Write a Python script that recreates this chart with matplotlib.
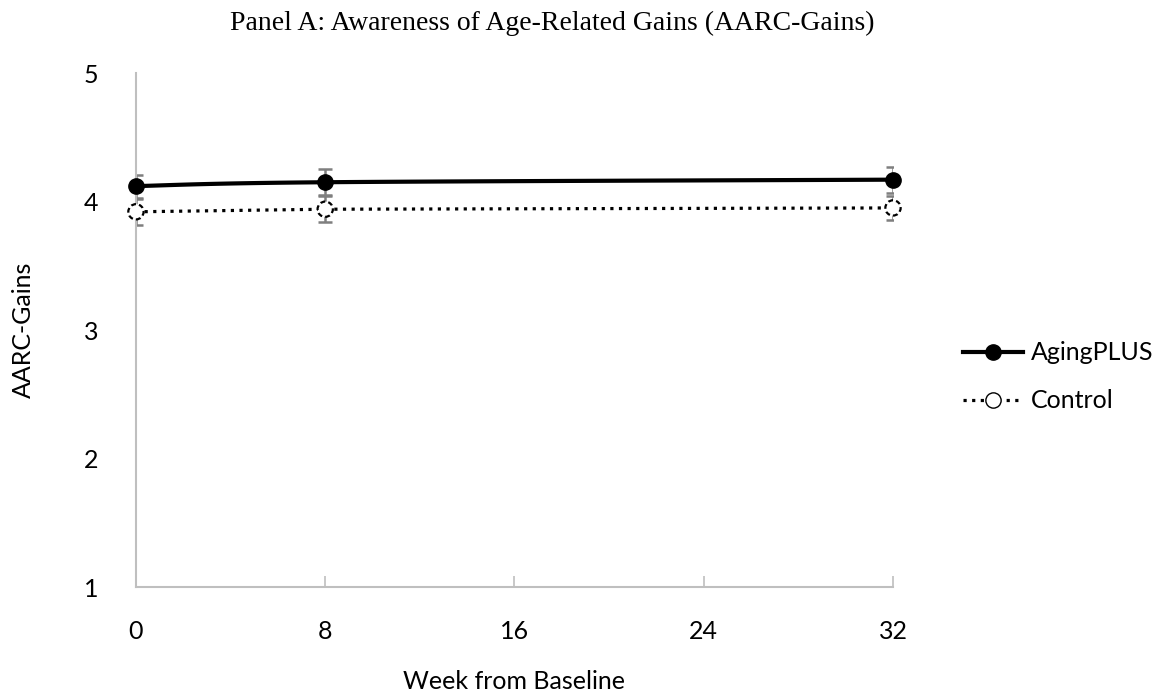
import numpy as np
import matplotlib
matplotlib.use("Agg")
import matplotlib.pyplot as plt
from matplotlib.lines import Line2D

weeks = [0, 8, 32]
aging_mean = [4.12, 4.15, 4.17]
aging_err = [0.09, 0.10, 0.10]
control_mean = [3.92, 3.94, 3.95]
control_err = [0.10, 0.10, 0.09]
x_ticks = [0, 8, 16, 24, 32]
y_ticks = [1, 2, 3, 4, 5]

title = "Panel A: Awareness of Age-Related Gains (AARC-Gains)"
xlabel = "Week from Baseline"
ylabel = "AARC-Gains"

sans = ["Lato", "DejaVu Sans"]
serif = ["Liberation Serif", "DejaVu Serif"]
FS = 18


def smooth(xs, ys, n=60):
    # Catmull-Rom style smoothing (rendering only, passes through data points)
    xs = np.asarray(xs, float)
    ys = np.asarray(ys, float)
    px = np.concatenate([[xs[0]], xs, [xs[-1]]])
    py = np.concatenate([[ys[0]], ys, [ys[-1]]])
    ox, oy = [], []
    for i in range(1, len(px) - 2):
        p0 = np.array([px[i - 1], py[i - 1]])
        p1 = np.array([px[i], py[i]])
        p2 = np.array([px[i + 1], py[i + 1]])
        p3 = np.array([px[i + 2], py[i + 2]])
        c1 = p1 + (p2 - p0) / 6.0
        c2 = p2 - (p3 - p1) / 6.0
        t = np.linspace(0, 1, n)[:, None]
        b = ((1 - t) ** 3) * p1 + 3 * ((1 - t) ** 2) * t * c1 + 3 * (1 - t) * t ** 2 * c2 + t ** 3 * p2
        ox.extend(b[:, 0])
        oy.extend(b[:, 1])
    return np.array(ox), np.array(oy)


fig = plt.figure(figsize=(11.75, 6.98), dpi=100)
ax = fig.add_axes([0.1157, 0.159, 0.6443, 0.7364])

grey = "#7f7f7f"
ax.errorbar(weeks, control_mean, yerr=control_err, fmt="none", ecolor=grey,
            elinewidth=1.8, capsize=5, capthick=1.8, zorder=2)
ax.errorbar(weeks, aging_mean, yerr=aging_err, fmt="none", ecolor=grey,
            elinewidth=1.8, capsize=5, capthick=1.8, zorder=2)

dots = (0, (1, 1.7))
ax.plot(weeks, control_mean, linestyle=dots, color="black", lw=2.3, zorder=3)
ax.scatter(weeks, control_mean, s=11 ** 2, facecolors="white", edgecolors="black",
           linewidths=1.6, linestyles=(0, (2.2, 1.4)), zorder=4, clip_on=False)
sx, sy = smooth(weeks, aging_mean)
ax.plot(sx, sy, color="black", lw=3, zorder=3)
ax.plot(weeks, aging_mean, linestyle="none", marker="o", markersize=11,
        color="black", zorder=4, clip_on=False)

ax.set_xlim(0, 32)
ax.set_ylim(1, 5)
ax.set_xticks(x_ticks)
ax.set_yticks(y_ticks)
ax.set_xticklabels([str(v) for v in x_ticks], fontfamily=sans, fontsize=FS)
ax.set_yticklabels([str(v) for v in y_ticks], fontfamily=sans, fontsize=FS)
ax.tick_params(axis="x", direction="in", length=8, color="#bfbfbf", width=1.2, pad=24)
ax.tick_params(axis="y", length=0, pad=27)
for s in ["top", "right"]:
    ax.spines[s].set_visible(False)
for s in ["left", "bottom"]:
    ax.spines[s].set_color("#bfbfbf")
    ax.spines[s].set_linewidth(1.5)
ax.set_xlabel(xlabel, fontfamily=sans, fontsize=FS, labelpad=19)
ax.set_ylabel(ylabel, fontfamily=sans, fontsize=FS, labelpad=35)
fig.text(0.47, 0.967, title, ha="center", va="center", fontfamily=serif, fontsize=20)

h1 = Line2D([], [], color="black", lw=3, marker="o", markersize=11)
h2 = Line2D([], [], color="black", lw=2.3, linestyle=dots, marker="o",
            markersize=11, markerfacecolor="white", markeredgecolor="black")
fig.legend([h1, h2], ["AgingPLUS", "Control"], loc="center left",
           bbox_to_anchor=(0.8, 0.46), frameon=False,
           prop={"family": sans, "size": FS}, handlelength=2.4,
           handletextpad=0.32, labelspacing=1.0)

fig.savefig("out.png", dpi=100)
